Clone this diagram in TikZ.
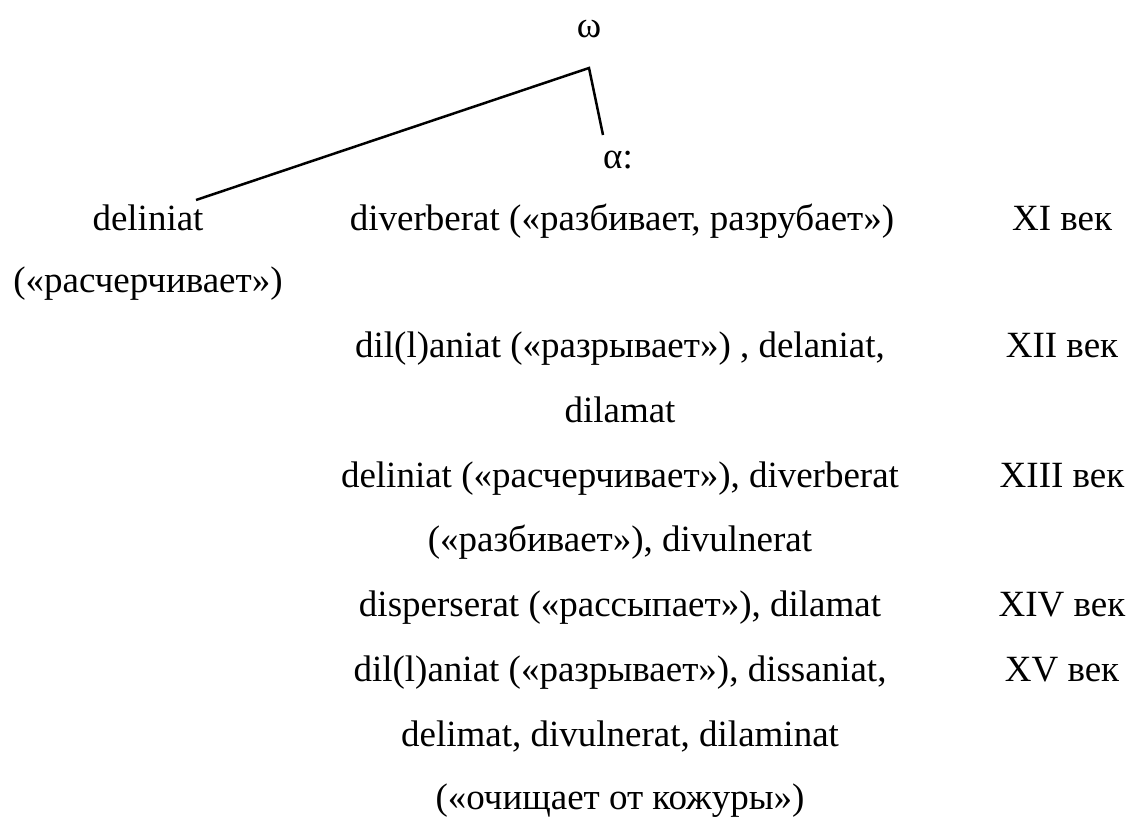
\documentclass[tikz,border=0pt]{standalone}
\usepackage{fontspec}
\setmainfont{Liberation Serif}
\begin{document}
\begin{tikzpicture}[x=1pt,y=-1pt,
  txt/.style={inner sep=0pt,anchor=base,font=\fontsize{37}{42}\selectfont},
  branch/.style={line width=2.5pt}]
\useasboundingbox (0,0) rectangle (1131,819);
\node[txt] (om) at (589,37) {ω};
\node[txt] (al) at (618,168) {α:};
\coordinate (top) at (589,68);
\coordinate (aend) at (603,135);
\coordinate (lend) at (196,200);
\draw[branch] (lend) -- (top) -- (aend);
\node[txt] (d1) at (148,230) {deliniat};
\node[txt] (d2) at (148,292) {(«расчерчивает»)};
\node[txt] (r11) at (622,230) {diverberat («разбивает, разрубает»)};
\node[txt] (c11) at (1062,230) {XI век};
\node[txt] (r12a) at (620,357) {dil(l)aniat («разрывает») , delaniat,};
\node[txt] (r12b) at (620,422) {dilamat};
\node[txt] (c12) at (1062,357) {XII век};
\node[txt] (r13a) at (620,487) {deliniat («расчерчивает»), diverberat};
\node[txt] (r13b) at (620,551) {(«разбивает»), divulnerat};
\node[txt] (c13) at (1062,487) {XIII век};
\node[txt] (r14) at (620,616) {disperserat («рассыпает»), dilamat};
\node[txt] (c14) at (1062,616) {XIV век};
\node[txt] (r15a) at (620,681) {dil(l)aniat («разрывает»), dissaniat,};
\node[txt] (r15b) at (620,746) {delimat, divulnerat, dilaminat};
\node[txt] (r15c) at (620,809) {(«очищает от кожуры»)};
\node[txt] (c15) at (1062,681) {XV век};
\end{tikzpicture}
\end{document}
